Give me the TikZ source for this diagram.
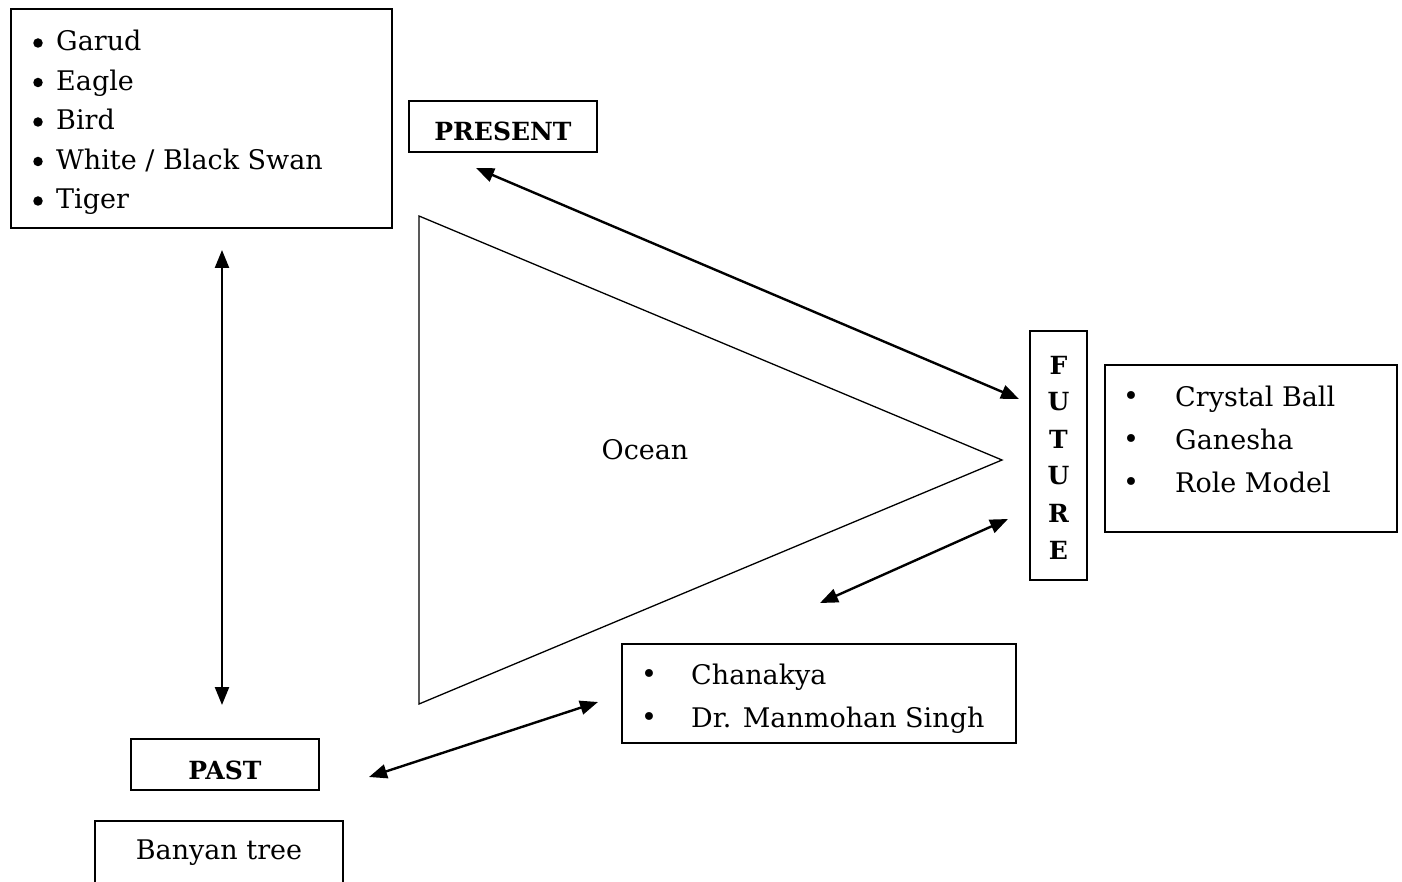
\documentclass[tikz,border=0pt]{standalone}
\usepackage{fontspec}
\setmainfont{DejaVu Serif}
\usetikzlibrary{arrows.meta}
\begin{document}
\begin{tikzpicture}[x=1pt,y=-1pt,
  box/.style={draw,line width=1.6pt,inner sep=0pt},
  txt/.style={inner sep=0pt,font=\fontsize{27}{31}\selectfont},
  item/.style={txt,anchor=base west},
  dot/.style={inner sep=0pt,font=\fontsize{27}{31}\selectfont},
  bigdot/.style={circle,fill,inner sep=0pt,minimum size=9.5pt},
  head/.style={inner sep=0pt,font=\fontsize{25}{30}\selectfont\bfseries},
  link/.style={line width=2.4pt,{Triangle[length=18pt,width=14pt]}-{Triangle[length=18pt,width=14pt]}},
]
\useasboundingbox (0,0) rectangle (1402,882);

% top-left list
\node[box,minimum width=381pt,minimum height=219pt] (animals) at (201.5,118.5) {};
\foreach \t [count=\i] in {Garud,Eagle,Bird,White / Black Swan,Tiger}{
  \node[bigdot] (ad\i) at (38,{43+(\i-1)*39.5}) {};
  \node[item] (a\i) at (56,{41+(\i-1)*39.5+10}) {\t};
}

% PRESENT
\node[box,minimum width=188pt,minimum height=51pt] (presentbox) at (503,126.5) {};
\node[head] (present) at (503,131) {PRESENT};

% triangle
\coordinate (t1) at (419,216);
\coordinate (t2) at (1002,460);
\coordinate (t3) at (419,704);
\draw[line width=1.3pt] (t1) -- (t2) -- (t3) -- cycle;
\node[txt] (ocean) at (645,450) {Ocean};

% FUTURE
\node[box,minimum width=57pt,minimum height=249pt] (futurebox) at (1058.5,455.5) {};
\foreach \l [count=\i] in {F,U,T,U,R,E}{
  \node[head] (f\i) at (1058.5,{365+(\i-1)*37}) {\l};
}

% future list
\node[box,minimum width=292pt,minimum height=167pt] (futurelist) at (1251,448.5) {};
\foreach \t [count=\i] in {Crystal Ball,Ganesha,Role Model}{
  \node[dot] (b\i) at (1131,{399+(\i-1)*43}) {•};
  \node[item] (fl\i) at (1175,{396+(\i-1)*43+10}) {\t};
}

% Chanakya list
\node[box,minimum width=394pt,minimum height=99pt] (gurus) at (819,693.5) {};
\foreach \t [count=\i] in {Chanakya,Dr. Manmohan Singh}{
  \node[dot] (c\i) at (649,{677+(\i-1)*43}) {•};
  \node[item] (cl\i) at (691,{674+(\i-1)*43+10}) {\t};
}

% PAST
\node[box,minimum width=188pt,minimum height=51pt] (pastbox) at (225,764.5) {};
\node[head] (past) at (225,770) {PAST};

% Banyan tree (box runs off the bottom edge)
\draw[line width=1.6pt] (95,884) -- (95,821) -- (343,821) -- (343,884);
\node[txt] (banyan) at (219,853) {Banyan tree};

% connectors
\coordinate (p1) at (476,168);  \coordinate (p2) at (1019,399);
\coordinate (q1) at (1008,519); \coordinate (q2) at (820,603);
\coordinate (r1) at (598,702);  \coordinate (r2) at (369,777);
\coordinate (s1) at (222,250);  \coordinate (s2) at (222,705);
\draw[link] (p1) -- (p2);
\draw[link] (q1) -- (q2);
\draw[link] (r1) -- (r2);
\draw[link] (s1) -- (s2);
\end{tikzpicture}
\end{document}
